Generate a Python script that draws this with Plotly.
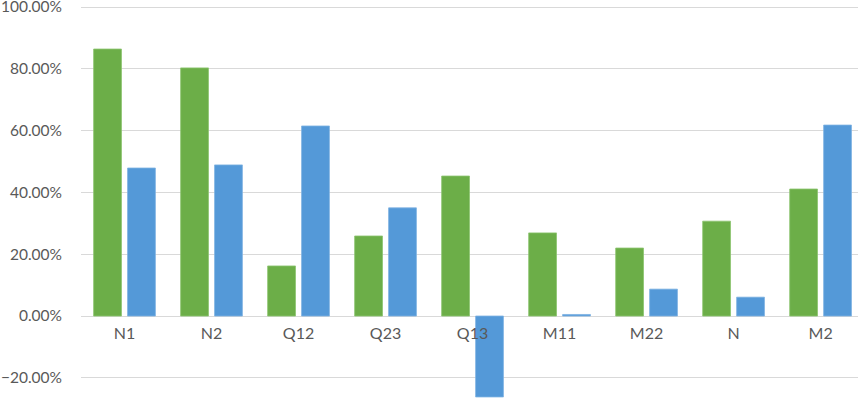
import plotly.graph_objects as go

categorias = ["N1", "N2", "Q12", "Q23", "Q13", "M11", "M22", "N", "M2"]
serie_verde = [0.864, 0.803, 0.162, 0.259, 0.453, 0.269, 0.220, 0.307, 0.411]
serie_azul = [0.479, 0.489, 0.615, 0.350, -0.262, 0.005, 0.087, 0.061, 0.618]

W, H = 858, 401
y_min, y_max = -0.275, 1.0227
x_min, x_max = -0.5, 8.43

fig = go.Figure()
fig.add_trace(go.Bar(x=categorias, y=serie_verde, name="verde",
                     marker=dict(color="#6cae48", line=dict(color="#8cc46e", width=0.8))))
fig.add_trace(go.Bar(x=categorias, y=serie_azul, name="azul",
                     marker=dict(color="#5499d8", line=dict(color="#7fb2e2", width=0.8))))

# eje x cruzando en el cero, como en Excel
pos_cero = (0 - y_min) / (y_max - y_min)

fig.update_layout(
    width=W, height=H,
    margin=dict(l=81, r=0, t=0, b=0, autoexpand=False),
    paper_bgcolor="white", plot_bgcolor="white",
    barmode="group", bargap=0.22, bargroupgap=0.18,
    showlegend=False,
    font=dict(family="Lato, 'Open Sans', sans-serif", size=16, color="#595959"),
    xaxis=dict(range=[x_min, x_max], anchor="free", position=pos_cero,
               automargin=False,
               showgrid=False, showline=False, ticks="", ticklabelstandoff=6,
               tickfont=dict(size=16, color="#595959")),
    yaxis=dict(range=[y_min, y_max], tickformat=".2%", dtick=0.2, tick0=0,
               automargin=False, ticklabeloverflow="allow",
               showgrid=True, gridcolor="#d9d9d9", gridwidth=1,
               zeroline=True, zerolinecolor="#d9d9d9", zerolinewidth=1,
               ticks="", ticklabelstandoff=18,
               tickfont=dict(size=15.5, color="#595959")),
)

# quitar el margen por defecto del body
fig.write_html("out.html", config={"displayModeBar": False},
               post_script="document.body.style.margin='0';document.body.style.overflow='hidden';")
